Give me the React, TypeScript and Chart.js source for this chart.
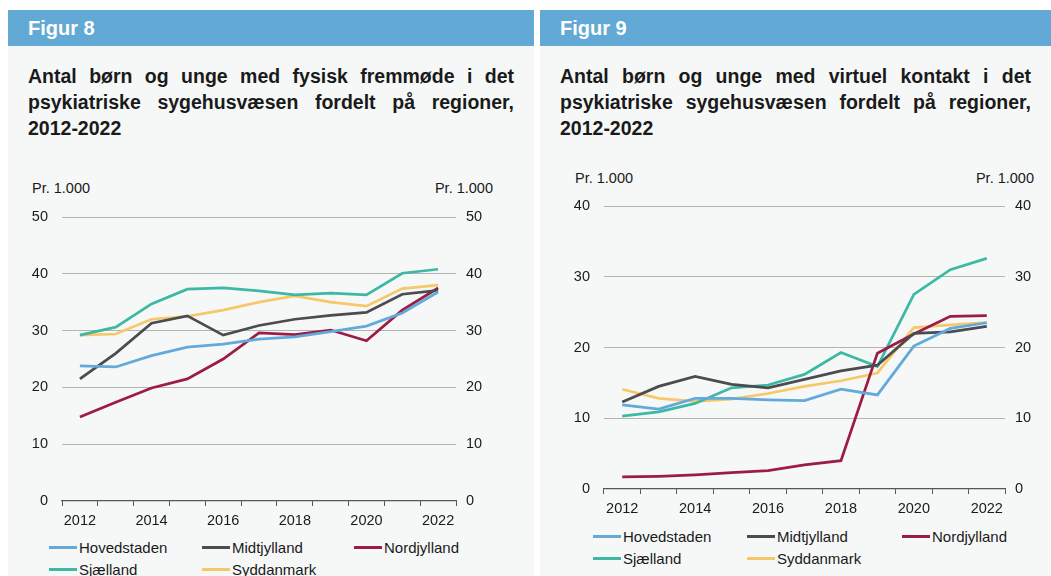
import React, { useEffect, useRef } from "react";
import { Chart, registerables } from "chart.js";

Chart.register(...registerables);

const years = ["2012", "2013", "2014", "2015", "2016", "2017", "2018", "2019", "2020", "2021", "2022"];
const seriesNames = ["Hovedstaden", "Midtjylland", "Nordjylland", "Sjælland", "Syddanmark"];

// Figur 8: fysisk fremmøde (pr. 1.000)
const fig8Hovedstaden = [23.8, 23.6, 25.6, 27.1, 27.6, 28.5, 28.9, 29.8, 30.8, 33.1, 36.8];
const fig8Midtjylland = [21.5, 26.0, 31.3, 32.6, 29.2, 30.9, 32.0, 32.7, 33.2, 36.4, 37.1];
const fig8Nordjylland = [14.8, 17.4, 19.9, 21.5, 25.0, 29.6, 29.3, 30.1, 28.2, 33.6, 37.5];
const fig8Sjaelland = [29.2, 30.6, 34.7, 37.3, 37.5, 37.0, 36.3, 36.6, 36.3, 40.1, 40.8];
const fig8Syddanmark = [29.2, 29.4, 32.0, 32.5, 33.6, 35.0, 36.1, 35.0, 34.3, 37.4, 38.0];

// Figur 9: virtuel kontakt (pr. 1.000)
const fig9Hovedstaden = [11.9, 11.3, 12.8, 12.8, 12.6, 12.5, 14.1, 13.3, 20.2, 22.7, 23.5];
const fig9Midtjylland = [12.3, 14.5, 15.9, 14.8, 14.3, 15.5, 16.7, 17.5, 22.0, 22.2, 23.0];
const fig9Nordjylland = [1.7, 1.8, 2.0, 2.3, 2.6, 3.4, 4.0, 19.2, 21.9, 24.4, 24.5];
const fig9Sjaelland = [10.3, 10.9, 12.1, 14.3, 14.7, 16.2, 19.3, 17.3, 27.5, 31.0, 32.6];
const fig9Syddanmark = [14.1, 12.8, 12.4, 12.7, 13.5, 14.5, 15.3, 16.4, 22.8, 23.2, 23.5];

const fig8Series = [fig8Hovedstaden, fig8Midtjylland, fig8Nordjylland, fig8Sjaelland, fig8Syddanmark];
const fig9Series = [fig9Hovedstaden, fig9Midtjylland, fig9Nordjylland, fig9Sjaelland, fig9Syddanmark];

const seriesColors = ["#62aadb", "#4b4b50", "#9c1c46", "#3cb8a4", "#f7c86a"];

const FONT = '"Liberation Sans", Arial, Helvetica, sans-serif';
const TEXT = "#1a1a1a";
const HEADER_BLUE = "#63a9d5";
const PANEL_BG = "#f6f8f8";

type ChartProps = {
  series: number[][];
  yMax: number;
  yStep: number;
  width: number;
  height: number;
  leftW: number;
  rightW: number;
  padTop: number;
  xAxisH: number;
};

function LineChart(p: ChartProps) {
  const ref = useRef<HTMLCanvasElement>(null);
  useEffect(() => {
    const font = { family: FONT, size: 14.5 };
    const chart = new Chart(ref.current as HTMLCanvasElement, {
      type: "line",
      data: {
        labels: years,
        datasets: p.series.map((d, i) => ({
          label: seriesNames[i],
          data: d,
          borderColor: seriesColors[i],
          backgroundColor: seriesColors[i],
          borderWidth: 2.75,
          pointRadius: 0,
          tension: 0,
          yAxisID: "y",
        })),
      },
      options: {
        animation: false,
        responsive: false,
        maintainAspectRatio: false,
        layout: { padding: { top: p.padTop, left: 0, right: 0, bottom: 0 } },
        plugins: { legend: { display: false }, tooltip: { enabled: false } },
        scales: {
          x: {
            type: "category",
            offset: true,
            grid: {
              display: true,
              drawOnChartArea: false,
              drawTicks: true,
              tickLength: 5,
              offset: true,
              color: "#555555",
              lineWidth: 1,
            },
            border: { display: true, color: "#555555", width: 1.2 },
            ticks: {
              autoSkip: false,
              maxRotation: 0,
              padding: 6,
              color: TEXT,
              font,
              callback: (_v: any, i: number) => (i % 2 === 0 ? years[i] : ""),
            },
            afterFit: (s: any) => {
              s.height = p.xAxisH;
              s.paddingLeft = 0;
              s.paddingRight = 0;
            },
          },
          y: {
            position: "left",
            min: 0,
            max: p.yMax,
            ticks: { stepSize: p.yStep, padding: 14, color: TEXT, font },
            grid: {
              drawTicks: false,
              lineWidth: 1,
              color: (ctx: any) => (ctx.tick && ctx.tick.value === 0 ? "rgba(0,0,0,0)" : "#b4b4b4"),
            },
            border: { display: false },
            afterFit: (s: any) => {
              s.width = p.leftW;
              s.paddingTop = 0;
              s.paddingBottom = 0;
            },
          },
          y2: {
            position: "right",
            min: 0,
            max: p.yMax,
            ticks: { stepSize: p.yStep, padding: 10, color: TEXT, font },
            grid: { display: false, drawTicks: false },
            border: { display: false },
            afterFit: (s: any) => {
              s.width = p.rightW;
              s.paddingTop = 0;
              s.paddingBottom = 0;
            },
          },
        },
      } as any,
    });
    return () => chart.destroy();
  }, []);
  return (
    <canvas
      ref={ref}
      width={p.width}
      height={p.height}
      style={{ display: "block", width: p.width, height: p.height }}
    />
  );
}

type PanelProps = {
  left: number;
  width: number;
  fig: string;
  title: string;
  chart: ChartProps;
  chartTop: number;
  unitTop: number;
  unitLeftX: number;
  unitRightX: number;
  legendCols: number[];
  legendRows: number[];
};

function Panel(p: PanelProps) {
  const abs: React.CSSProperties = { position: "absolute" };
  return (
    <>
      <div style={{ ...abs, left: p.left, top: 10, width: p.width, height: 36, background: HEADER_BLUE }}>
        <div
          style={{
            ...abs,
            left: 20,
            top: 7,
            color: "#ffffff",
            fontFamily: FONT,
            fontWeight: 700,
            fontSize: 20,
            lineHeight: "22px",
          }}
        >
          {p.fig}
        </div>
      </div>
      <div style={{ ...abs, left: p.left, top: 46, width: p.width, height: 530, background: PANEL_BG }} />
      <div
        style={{
          ...abs,
          left: p.left + 20,
          top: 63,
          width: p.width - 40,
          fontFamily: FONT,
          fontWeight: 700,
          fontSize: 19.5,
          lineHeight: "26px",
          color: TEXT,
          textAlign: "justify",
        }}
      >
        {p.title}
      </div>
      <div style={{ ...abs, left: p.unitLeftX, top: p.unitTop, fontFamily: FONT, fontSize: 14.5, color: TEXT, lineHeight: "18px" }}>
        Pr. 1.000
      </div>
      <div
        style={{
          ...abs,
          left: p.unitRightX - 100,
          width: 100,
          textAlign: "right",
          top: p.unitTop,
          fontFamily: FONT,
          fontSize: 14.5,
          color: TEXT,
          lineHeight: "18px",
        }}
      >
        Pr. 1.000
      </div>
      <div style={{ ...abs, left: p.left, top: p.chartTop }}>
        <LineChart {...p.chart} />
      </div>
      {seriesNames.map((name, i) => {
        const col = i < 3 ? i : i - 3;
        const row = i < 3 ? 0 : 1;
        return (
          <div
            key={name}
            style={{
              ...abs,
              left: p.legendCols[col],
              top: p.legendRows[row] - 10,
              height: 20,
              display: "flex",
              alignItems: "center",
              fontFamily: FONT,
              fontSize: 15,
              color: TEXT,
              whiteSpace: "nowrap",
            }}
          >
            <span style={{ display: "inline-block", width: 28, height: 3, background: seriesColors[i], marginRight: 2 }} />
            <span>{name}</span>
          </div>
        );
      })}
    </>
  );
}

export default function App() {
  return (
    <div style={{ position: "absolute", left: 0, top: 0, width: 1051, height: 576, overflow: "hidden", background: "#ffffff" }}>
      <Panel
        left={8}
        width={526}
        fig="Figur 8"
        title="Antal børn og unge med fysisk fremmøde i det psykiatriske sygehusvæsen fordelt på regioner, 2012-2022"
        chartTop={200}
        unitTop={179}
        unitLeftX={32}
        unitRightX={493}
        legendCols={[49, 202, 354]}
        legendRows={[547, 569]}
        chart={{
          series: fig8Series,
          yMax: 50,
          yStep: 10,
          width: 526,
          height: 331,
          leftW: 54,
          rightW: 78,
          padTop: 17,
          xAxisH: 30,
        }}
      />
      <Panel
        left={540}
        width={511}
        fig="Figur 9"
        title="Antal børn og unge med virtuel kontakt i det psykiatriske sygehusvæsen fordelt på regioner, 2012-2022"
        chartTop={190}
        unitTop={169}
        unitLeftX={575}
        unitRightX={1034}
        legendCols={[593, 747, 902]}
        legendRows={[536, 558]}
        chart={{
          series: fig9Series,
          yMax: 40,
          yStep: 10,
          width: 511,
          height: 329,
          leftW: 64,
          rightW: 46,
          padTop: 16,
          xAxisH: 30,
        }}
      />
    </div>
  );
}
